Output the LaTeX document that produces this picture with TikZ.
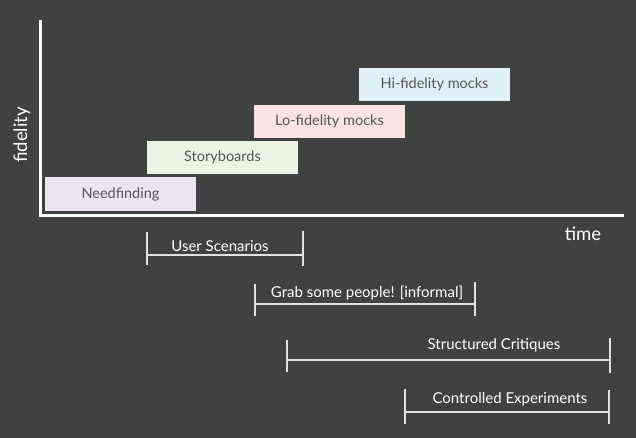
\documentclass[tikz,border=0pt]{standalone}
\usepackage{fontspec}
\setmainfont{Lato}
\definecolor{bg}{HTML}{404141}
\definecolor{boxtext}{HTML}{555555}
\definecolor{needc}{HTML}{ECE4F1}
\definecolor{storyc}{HTML}{EBF4E4}
\definecolor{loc}{HTML}{FBE2E3}
\definecolor{hic}{HTML}{E0F0F7}
\definecolor{barc}{HTML}{E2E2E2}
\begin{document}
\begin{tikzpicture}[x=1pt,y=-1pt,
  phase/.style={rectangle,minimum width=151pt,minimum height=33pt,inner sep=0pt,text=boxtext,font=\fontsize{14.5}{16}\selectfont},
  axisline/.style={white,line width=3pt},
  rangebar/.style={barc,line width=1.4pt},
  barlabel/.style={text=white,font=\fontsize{15}{17}\selectfont,inner sep=0pt},
  axislabel/.style={text=white,font=\fontsize{18.5}{21}\selectfont,inner sep=0pt}]
\fill[bg] (0,0) rectangle (636,438);
\useasboundingbox (0,0) rectangle (636,438);
% axes
\coordinate (top) at (40,20);
\coordinate (orig) at (40,215.5);
\coordinate (right) at (624,215.5);
\draw[axisline] (top) -- (orig) -- (right);
\node[axislabel,rotate=90] (fid) at (22,135) {fidelity};
\node[axislabel] (time) at (583,234) {time};
% phases
\node[phase,fill=needc] (need) at (120.5,194) {Needfinding};
\node[phase,fill=storyc] (story) at (222.5,157.5) {Storyboards};
\node[phase,fill=loc] (lofi) at (329.5,121.5) {Lo-fidelity mocks};
\node[phase,fill=hic] (hifi) at (434.5,84.5) {Hi-fidelity mocks};
% User Scenarios
\coordinate (us1t) at (147,232); \coordinate (us1b) at (147,265);
\coordinate (us1m) at (147,255);
\coordinate (us2t) at (303,231); \coordinate (us2b) at (303,266);
\coordinate (us2m) at (303,255);
\draw[rangebar] (us1t) -- (us1b) (us2t) -- (us2b) (us1m) -- (us2m);
\node[barlabel] (us) at (220,246) {User Scenarios};
% Grab some people
\coordinate (gp1t) at (255,284); \coordinate (gp1b) at (255,316);
\coordinate (gp1m) at (255,304);
\coordinate (gp2t) at (475,282); \coordinate (gp2b) at (475,316);
\coordinate (gp2m) at (475,304);
\draw[rangebar] (gp1t) -- (gp1b) (gp2t) -- (gp2b) (gp1m) -- (gp2m);
\node[barlabel] (gp) at (367,293) {Grab some people! [informal]};
% Structured Critiques
\coordinate (sc1t) at (287,340); \coordinate (sc1b) at (287,372);
\coordinate (sc1m) at (287,360);
\coordinate (sc2t) at (610,338); \coordinate (sc2b) at (610,373);
\coordinate (sc2m) at (610,360);
\draw[rangebar] (sc1t) -- (sc1b) (sc2t) -- (sc2b) (sc1m) -- (sc2m);
\node[barlabel] (sc) at (494,345) {Structured Critiques};
% Controlled Experiments
\coordinate (ce1t) at (405,389); \coordinate (ce1b) at (405,424);
\coordinate (ce1m) at (405,412);
\coordinate (ce2t) at (609,390); \coordinate (ce2b) at (609,424);
\coordinate (ce2m) at (609,412);
\draw[rangebar] (ce1t) -- (ce1b) (ce2t) -- (ce2b) (ce1m) -- (ce2m);
\node[barlabel] (ce) at (510,399) {Controlled Experiments};
\end{tikzpicture}
\end{document}
